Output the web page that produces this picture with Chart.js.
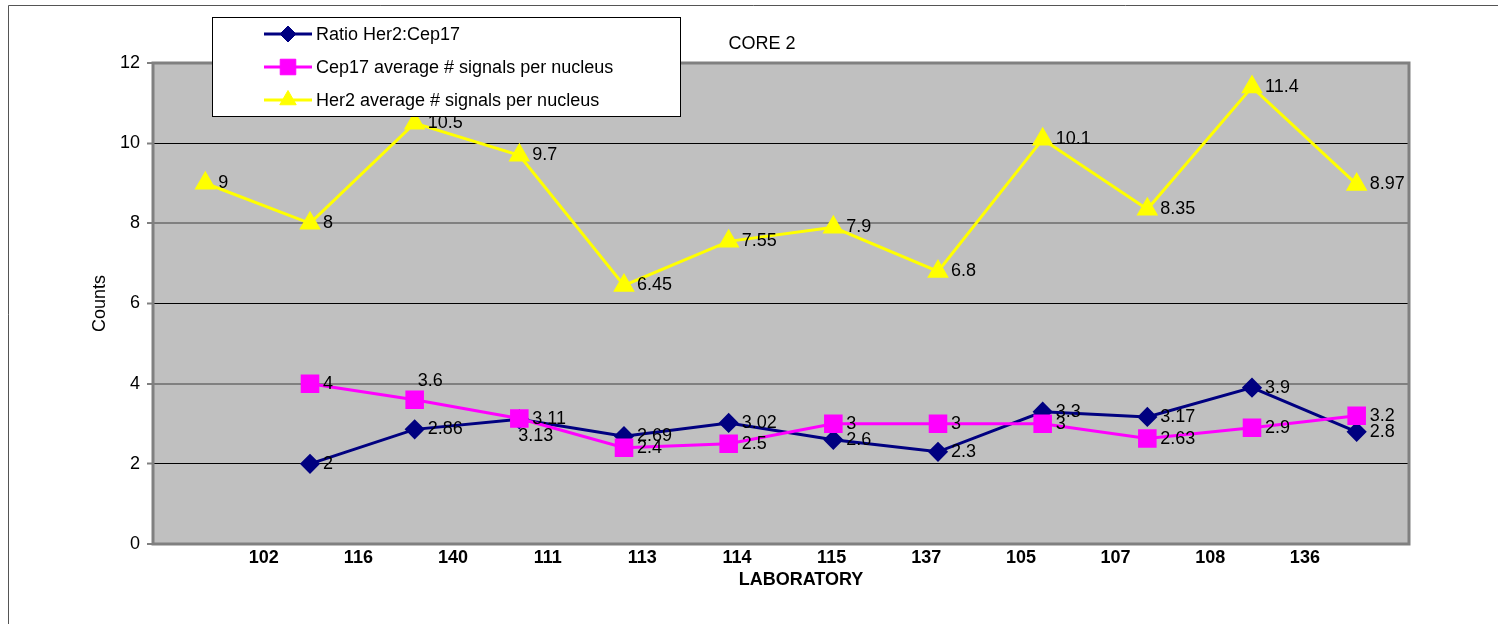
<!DOCTYPE html>
<html>
<head>
<meta charset="utf-8">
<script src="https://cdn.jsdelivr.net/npm/chart.js@4.4.1/dist/chart.umd.min.js"></script>
<style>
  html, body { margin: 0; padding: 0; background: #fff; }
  #wrap { width: 1498px; height: 624px; }
</style>
</head>
<body>
<div id="wrap"><canvas id="coreChart" width="1498" height="624"></canvas></div>
<script>
const laboratories = ["102", "116", "140", "111", "113", "114", "115", "137", "105", "107", "108", "136"];
const ratioHer2Cep17 = [null, 2, 2.86, 3.11, 2.69, 3.02, 2.6, 2.3, 3.3, 3.17, 3.9, 2.8];
const cep17Signals = [null, 4, 3.6, 3.13, 2.4, 2.5, 3, 3, 3, 2.63, 2.9, 3.2];
const her2Signals = [9, 8, 10.5, 9.7, 6.45, 7.55, 7.9, 6.8, 10.1, 8.35, 11.4, 8.97];
const seriesNames = ["Ratio Her2:Cep17", "Cep17 average # signals per nucleus", "Her2 average # signals per nucleus"];
const yMin = 0, yMax = 12, yStep = 2;

const FONT = '"Liberation Sans", Arial, sans-serif';
const FS = 18;

// a couple of value labels sit above / below their point instead of to the right
const labelNudges = { "1:2": [3, -19], "1:3": [-1, 17] };

function drawMarker(ctx, style, r, x, y, color) {
  if (Chart.helpers && Chart.helpers.drawPoint) {
    ctx.fillStyle = color;
    ctx.strokeStyle = color;
    ctx.lineWidth = 1;
    Chart.helpers.drawPoint(ctx, { pointStyle: style, radius: r, rotation: 0, borderWidth: 1 }, x, y);
  }
}

const excelLook = {
  id: "excelLook",
  beforeDraw(chart) {
    const { ctx, chartArea: a } = chart;
    ctx.save();
    ctx.fillStyle = "#fff";
    ctx.fillRect(0, 0, chart.width, chart.height);
    ctx.strokeStyle = "#555";
    ctx.lineWidth = 1;
    ctx.beginPath();
    ctx.moveTo(8.5, chart.height);
    ctx.lineTo(8.5, 5.5);
    ctx.lineTo(chart.width, 5.5);
    ctx.stroke();
    ctx.fillStyle = "#c0c0c0";
    ctx.fillRect(a.left, a.top, a.right - a.left, a.bottom - a.top);
    ctx.restore();
  },
  beforeDatasetsDraw(chart) {
    const { ctx, chartArea: a } = chart;
    ctx.save();
    ctx.strokeStyle = "#808080";
    ctx.lineWidth = 3;
    ctx.strokeRect(a.left, a.top, a.right - a.left, a.bottom - a.top);
    ctx.restore();
  },
  afterDatasetsDraw(chart) {
    const ctx = chart.ctx;
    ctx.save();
    ctx.font = FS + "px " + FONT;
    ctx.fillStyle = "#000";
    ctx.textBaseline = "middle";
    ctx.textAlign = "left";
    chart.data.datasets.forEach((ds, di) => {
      chart.getDatasetMeta(di).data.forEach((pt, i) => {
        const v = ds.data[i];
        if (v === null) return;
        const [dx, dy] = labelNudges[di + ":" + i] || [13, 0];
        ctx.fillText(String(v), pt.x + dx, pt.y + dy);
      });
    });
    ctx.restore();
  },
  afterDraw(chart) {
    const ctx = chart.ctx;
    ctx.save();
    // titles
    ctx.fillStyle = "#000";
    ctx.textAlign = "center";
    ctx.textBaseline = "middle";
    ctx.font = FS + "px " + FONT;
    ctx.fillText("CORE 2", 762, 44);
    ctx.font = "bold " + FS + "px " + FONT;
    ctx.fillText("LABORATORY", 801, 580);

    // legend box
    ctx.fillStyle = "#fff";
    ctx.fillRect(212.5, 17.5, 468, 99);
    ctx.strokeStyle = "#000";
    ctx.lineWidth = 1;
    ctx.strokeRect(212.5, 17.5, 468, 99);
    chart.data.datasets.forEach((ds, i) => {
      const y = 34 + i * 33;
      ctx.strokeStyle = ds.borderColor;
      ctx.lineWidth = 3;
      ctx.beginPath();
      ctx.moveTo(264, y);
      ctx.lineTo(312, y);
      ctx.stroke();
      drawMarker(ctx, ds.pointStyle, ds.pointRadius, 288, y, ds.pointBackgroundColor);
      ctx.fillStyle = "#000";
      ctx.font = FS + "px " + FONT;
      ctx.textAlign = "left";
      ctx.fillText(ds.label, 316, y + 1);
    });
    ctx.restore();
  }
};

new Chart(document.getElementById("coreChart"), {
  type: "line",
  data: {
    labels: laboratories,
    datasets: [
      {
        label: seriesNames[0],
        data: ratioHer2Cep17,
        borderColor: "#000080",
        pointBackgroundColor: "#000080",
        pointBorderColor: "#000080",
        pointStyle: "rectRot",
        pointRadius: 8,
        borderWidth: 3,
        order: 3
      },
      {
        label: seriesNames[1],
        data: cep17Signals,
        borderColor: "#ff00ff",
        pointBackgroundColor: "#ff00ff",
        pointBorderColor: "#ff00ff",
        pointStyle: "rect",
        pointRadius: 11,
        borderWidth: 3,
        order: 2
      },
      {
        label: seriesNames[2],
        data: her2Signals,
        borderColor: "#ffff00",
        pointBackgroundColor: "#ffff00",
        pointBorderColor: "#ffff00",
        pointStyle: "triangle",
        pointRadius: 9.5,
        borderWidth: 3,
        order: 1
      }
    ]
  },
  options: {
    responsive: false,
    animation: false,
    events: [],
    layout: { padding: { top: 63, right: 89, left: 0, bottom: 0 } },
    plugins: {
      legend: { display: false },
      tooltip: { enabled: false }
    },
    scales: {
      // points sit on this category axis
      x: {
        type: "category",
        offset: true,
        display: false
      },
      // the laboratory names in the original run on their own, narrower spacing
      xLabels: {
        type: "linear",
        position: "bottom",
        min: -1.17,
        max: 12.1,
        grid: { display: false, drawTicks: false },
        border: { display: false },
        afterBuildTicks(scale) {
          scale.ticks = laboratories.map((_, i) => ({ value: i }));
        },
        ticks: {
          callback: (v) => laboratories[v],
          padding: 3,
          maxRotation: 0,
          autoSkip: false,
          color: "#000",
          font: { family: FONT, size: FS, weight: "bold" }
        },
        afterFit(scale) { scale.height = 80; }
      },
      y: {
        min: yMin,
        max: yMax,
        grid: {
          color: (c) => (c.tick && c.tick.value % 4 === 0 ? "#808080" : "#000"),
          lineWidth: (c) => (c.tick && c.tick.value % 4 === 0 ? 2 : 1),
          tickColor: "#808080",
          tickLength: 6,
          tickWidth: 2
        },
        border: { display: false },
        ticks: {
          stepSize: yStep,
          padding: 7,
          color: "#000",
          font: { family: FONT, size: FS }
        },
        title: {
          display: true,
          text: "Counts",
          color: "#000",
          font: { family: FONT, size: FS },
          padding: { top: 89, bottom: 0 }
        },
        afterFit(scale) { scale.width = 153; }
      }
    }
  },
  plugins: [excelLook]
});
</script>
</body>
</html>
